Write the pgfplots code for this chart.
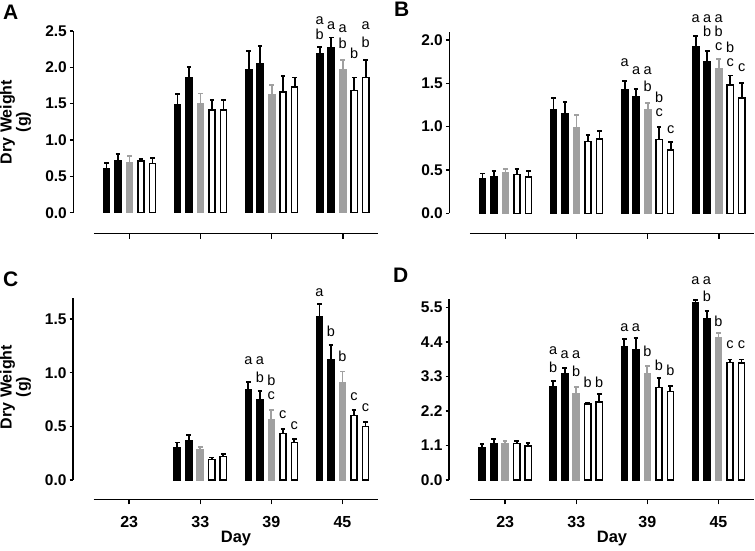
\documentclass[border=0pt]{standalone}
\usepackage{fontspec}
\setmainfont{Liberation Sans}
\usepackage{pgfplots}
\pgfplotsset{compat=1.18}
\definecolor{bargray}{RGB}{160,160,160}
\newcommand{\lettfont}{\fontsize{14.5}{14.5}\selectfont}
\newcommand{\lab}[3]{\node[anchor=base,inner sep=0pt,font=\lettfont] at (axis cs:#1,#2) {#3};}
\pgfplotsset{
 panel/.style={
  scale only axis, width=305pt, anchor=south west,
  xmin=-0.79, xmax=3.5,
  axis lines=left, axis line style={draw=none,-},
  x axis line style={draw=none,-}, y axis line style={draw=none,-},
  xtick={0,1,2,3}, xticklabels={},
  tick align=outside,
  xtick style={line width=1.5pt, black, /pgfplots/major tick length=5pt},
  ytick style={line width=1.5pt, black, /pgfplots/major tick length=3.5pt},
  yticklabel style={font=\fontsize{15.5}{15.5}\selectfont\bfseries, anchor=east, inner sep=0pt, xshift=-2pt,
    /pgf/number format/fixed, /pgf/number format/fixed zerofill, /pgf/number format/precision=1,
    /pgf/number format/assume math mode=true},
  xticklabel style={font=\fontsize{16}{16}\selectfont\bfseries, anchor=north, inner sep=0pt, yshift=-13pt},
  clip=false,
  ybar, bar width=0.087,
 },
 sb/.style={ybar, black, fill=black, draw=black, line width=1.5pt,
   error bars/.cd, y dir=plus, y explicit,
   error bar style={line width=1.8pt, solid, black},
   error mark options={rotate=90, mark size=2.3pt, line width=1.8pt, black}},
 sg/.style={ybar, bargray, fill=bargray, draw=bargray, line width=1.5pt,
   error bars/.cd, y dir=plus, y explicit,
   error bar style={line width=1.8pt, solid, bargray},
   error mark options={rotate=90, mark size=2.3pt, line width=1.8pt, bargray}},
 sw/.style={ybar, black, fill=white, draw=black, line width=1.5pt,
   error bars/.cd, y dir=plus, y explicit,
   error bar style={line width=1.8pt, solid, black},
   error mark options={rotate=90, mark size=2.3pt, line width=1.8pt, black}},
}
\begin{document}
\begin{tikzpicture}
\useasboundingbox (0,0) rectangle (755pt,550pt);

% ---------- Panel A ----------
\begin{axis}[panel, at={(73.3pt,316.5pt)}, height=202.5pt, ymin=-0.286, ymax=2.5, ytick={0,0.5,...,2.5}]
\addplot[bar shift=-0.3234, sb] coordinates {(0,0.61) +- (0,0.07) (1,1.48) +- (0,0.15) (2,1.97) +- (0,0.25) (3,2.19) +- (0,0.09)};
\addplot[bar shift=-0.1617, sb] coordinates {(0,0.71) +- (0,0.10) (1,1.86) +- (0,0.15) (2,2.05) +- (0,0.24) (3,2.27) +- (0,0.14)};
\addplot[bar shift=0, sg] coordinates {(0,0.69) +- (0,0.09) (1,1.50) +- (0,0.14) (2,1.62) +- (0,0.14) (3,1.97) +- (0,0.13)};
\addplot[bar shift=0.1617, sw] coordinates {(0,0.71) +- (0,0.03) (1,1.41) +- (0,0.14) (2,1.66) +- (0,0.22) (3,1.68) +- (0,0.18)};
\addplot[bar shift=0.3234, sw] coordinates {(0,0.68) +- (0,0.07) (1,1.41) +- (0,0.14) (2,1.73) +- (0,0.13) (3,1.86) +- (0,0.24)};
\draw[line width=1.5pt] (axis cs:-0.79,0) -- (axis cs:-0.79,2.5);
\draw[line width=1.5pt] (axis cs:-0.5,-0.286) -- (axis cs:3.5,-0.286);
\lab{2.6766}{2.583}{a}\lab{2.6766}{2.386}{b}
\lab{2.8383}{2.523}{a}
\lab{3}{2.486}{a}\lab{3}{2.256}{b}
\lab{3.1617}{2.115}{b}
\lab{3.3234}{2.514}{a}\lab{3.3234}{2.276}{b}
\end{axis}

% ---------- Panel B ----------
\begin{axis}[panel, at={(449.3pt,316.5pt)}, height=201.3pt, ymin=-0.233, ymax=2.09, ytick={0,0.5,...,2.0}]
\addplot[bar shift=-0.3234, sb] coordinates {(0,0.40) +- (0,0.06) (1,1.20) +- (0,0.13) (2,1.43) +- (0,0.10) (3,1.92) +- (0,0.13)};
\addplot[bar shift=-0.1617, sb] coordinates {(0,0.42) +- (0,0.07) (1,1.15) +- (0,0.13) (2,1.34) +- (0,0.09) (3,1.75) +- (0,0.12)};
\addplot[bar shift=0, sg] coordinates {(0,0.47) +- (0,0.04) (1,0.99) +- (0,0.14) (2,1.19) +- (0,0.08) (3,1.67) +- (0,0.11)};
\addplot[bar shift=0.1617, sw] coordinates {(0,0.45) +- (0,0.06) (1,0.83) +- (0,0.07) (2,0.85) +- (0,0.15) (3,1.48) +- (0,0.11)};
\addplot[bar shift=0.3234, sw] coordinates {(0,0.42) +- (0,0.07) (1,0.86) +- (0,0.09) (2,0.73) +- (0,0.09) (3,1.33) +- (0,0.17)};
\draw[line width=1.5pt] (axis cs:-0.79,0) -- (axis cs:-0.79,2.09);
\draw[line width=1.5pt] (axis cs:-0.5,-0.233) -- (axis cs:3.5,-0.233);
\lab{1.6766}{1.695}{a}
\lab{1.8383}{1.601}{a}
\lab{2}{1.601}{a}\lab{2}{1.402}{b}
\lab{2.1617}{1.280}{b}\lab{2.1617}{1.113}{c}
\lab{2.3234}{0.920}{c}
\lab{2.6766}{2.201}{a}
\lab{2.8383}{2.201}{a}\lab{2.8383}{2.038}{b}
\lab{3}{2.201}{a}\lab{3}{2.038}{b}\lab{3}{1.876}{c}
\lab{3.1617}{1.858}{b}\lab{3.1617}{1.692}{c}
\lab{3.3234}{1.634}{c}
\end{axis}

% ---------- Panel C ----------
\begin{axis}[panel, at={(73pt,50.7pt)}, height=201pt, ymin=-0.18, ymax=1.693, ytick={0,0.5,...,1.5},
  xticklabels={23,33,39,45}]
\addplot[bar shift=-0.3234, sb] coordinates {(1,0.30) +- (0,0.05) (2,0.845) +- (0,0.065) (3,1.52) +- (0,0.12)};
\addplot[bar shift=-0.1617, sb] coordinates {(1,0.37) +- (0,0.05) (2,0.75) +- (0,0.08) (3,1.12) +- (0,0.14)};
\addplot[bar shift=0, sg] coordinates {(1,0.28) +- (0,0.03) (2,0.565) +- (0,0.085) (3,0.91) +- (0,0.10)};
\addplot[bar shift=0.1617, sw] coordinates {(1,0.19) +- (0,0.02) (2,0.435) +- (0,0.04) (3,0.60) +- (0,0.05)};
\addplot[bar shift=0.3234, sw] coordinates {(1,0.22) +- (0,0.02) (2,0.35) +- (0,0.03) (3,0.50) +- (0,0.04)};
\draw[line width=1.5pt] (axis cs:-0.79,0) -- (axis cs:-0.79,1.693);
\draw[line width=1.5pt] (axis cs:-0.5,-0.18) -- (axis cs:3.5,-0.18);
\lab{1.6766}{1.078}{a}
\lab{1.8383}{1.078}{a}\lab{1.8383}{0.910}{b}
\lab{2}{0.884}{b}\lab{2}{0.749}{c}
\lab{2.1617}{0.572}{c}
\lab{2.3234}{0.470}{c}
\lab{2.6766}{1.712}{a}
\lab{2.8383}{1.341}{b}
\lab{3}{1.102}{b}
\lab{3.1617}{0.743}{c}
\lab{3.3234}{0.635}{c}
\end{axis}

% ---------- Panel D ----------
\begin{axis}[panel, at={(449pt,50.7pt)}, height=200pt, ymin=-0.615, ymax=5.755, ytick={0,1.1,2.2,3.3,4.4,5.5},
  xticklabels={23,33,39,45}]
\addplot[bar shift=-0.3234, sb] coordinates {(0,1.02) +- (0,0.13) (1,2.97) +- (0,0.18) (2,4.25) +- (0,0.23) (3,5.65) +- (0,0.08)};
\addplot[bar shift=-0.1617, sb] coordinates {(0,1.15) +- (0,0.15) (1,3.38) +- (0,0.19) (2,4.16) +- (0,0.35) (3,5.15) +- (0,0.24)};
\addplot[bar shift=0, sg] coordinates {(0,1.17) +- (0,0.08) (1,2.76) +- (0,0.21) (2,3.38) +- (0,0.25) (3,4.54) +- (0,0.13)};
\addplot[bar shift=0.1617, sw] coordinates {(0,1.17) +- (0,0.07) (1,2.42) +- (0,0.05) (2,2.95) +- (0,0.29) (3,3.75) +- (0,0.09)};
\addplot[bar shift=0.3234, sw] coordinates {(0,1.09) +- (0,0.08) (1,2.49) +- (0,0.25) (2,2.82) +- (0,0.17) (3,3.72) +- (0,0.12)};
\draw[line width=1.5pt] (axis cs:-0.79,0) -- (axis cs:-0.79,5.755);
\draw[line width=1.5pt] (axis cs:-0.5,-0.615) -- (axis cs:3.5,-0.615);
\lab{0.6766}{4.003}{a}\lab{0.6766}{3.414}{b}
\lab{0.8383}{3.866}{a}
\lab{1}{3.866}{a}\lab{1}{3.309}{b}
\lab{1.1617}{2.949}{b}
\lab{1.3234}{2.949}{b}
\lab{1.6766}{4.717}{a}
\lab{1.8383}{4.717}{a}
\lab{2}{3.946}{b}
\lab{2.1617}{3.500}{b}
\lab{2.3234}{3.341}{b}
\lab{2.6766}{6.223}{a}
\lab{2.8383}{6.223}{a}\lab{2.8383}{5.675}{b}
\lab{3}{4.901}{b}
\lab{3.1617}{4.185}{c}
\lab{3.3234}{4.185}{c}
\end{axis}

% ---------- labels ----------
\node[anchor=base west, inner sep=0pt, font=\fontsize{21}{21}\selectfont\bfseries] at (3pt,530.5pt) {A};
\node[anchor=base west, inner sep=0pt, font=\fontsize{21}{21}\selectfont\bfseries] at (394pt,533pt) {B};
\node[anchor=base west, inner sep=0pt, font=\fontsize{21}{21}\selectfont\bfseries] at (3pt,263.5pt) {C};
\node[anchor=base west, inner sep=0pt, font=\fontsize{21}{21}\selectfont\bfseries] at (393pt,268pt) {D};
\node[rotate=90, align=center, inner sep=0pt, font=\fontsize{16}{13}\selectfont\bfseries] at (15.5pt,428pt) {Dry Weight\\(g)};
\node[rotate=90, align=center, inner sep=0pt, font=\fontsize{16}{13}\selectfont\bfseries] at (15.5pt,163pt) {Dry Weight\\(g)};
\node[font=\fontsize{16.5}{16.5}\selectfont\bfseries] at (236pt,11.7pt) {Day};
\node[font=\fontsize{16.5}{16.5}\selectfont\bfseries] at (612pt,11.7pt) {Day};
\end{tikzpicture}
\end{document}
